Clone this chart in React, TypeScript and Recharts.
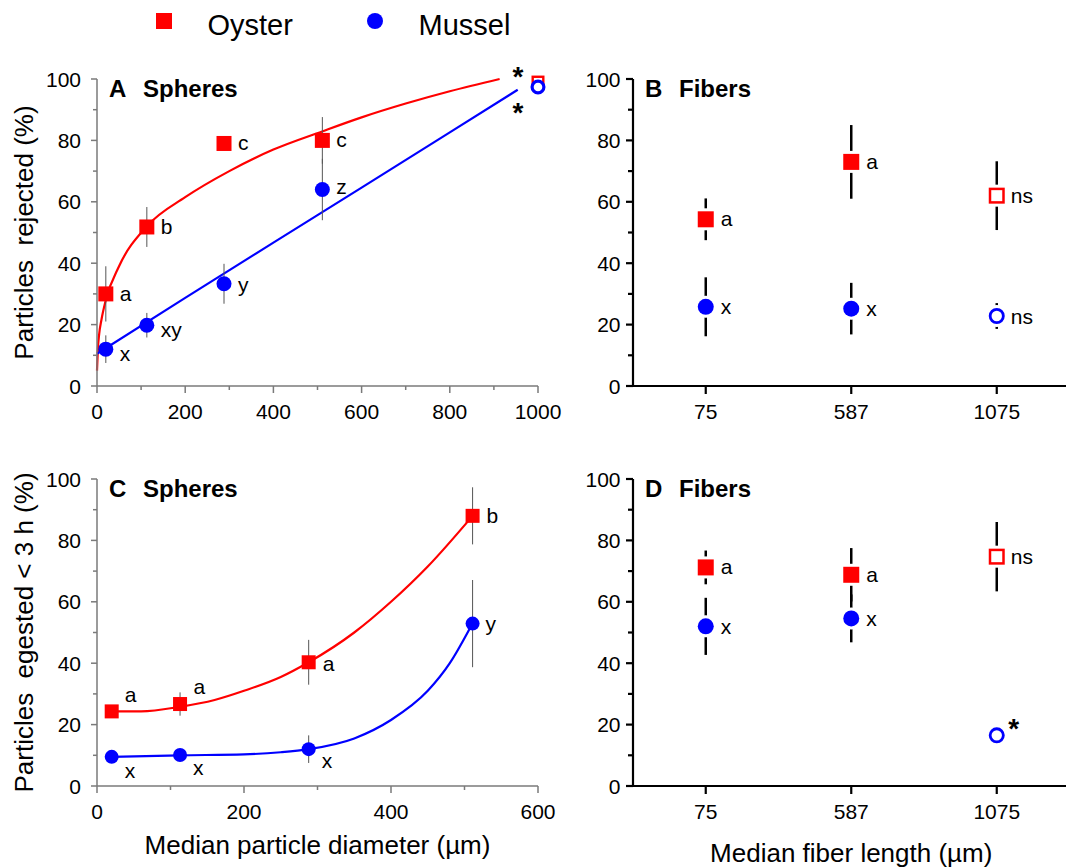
import React from 'react';
import { ComposedChart, Line, Scatter, XAxis, YAxis, ErrorBar, Legend } from 'recharts';

const FONT = '"Liberation Sans", Arial, Helvetica, sans-serif';
const RED = '#ff0000';
const BLUE = '#0000ff';

// ---------- shared ticks ----------
const percentTicks = [0, 10, 20, 30, 40, 50, 60, 70, 80, 90, 100];
const diameterTicksA = [0, 100, 200, 300, 400, 500, 600, 700, 800, 900, 1000];
const diameterTicksC = [0, 100, 200, 300, 400, 500, 600];
const fiberLengths = ['75', '587', '1075'];
const fiberHollow = [false, false, true];
const speciesOrder = ['Oyster', 'Mussel'];

// ---------- Panel A: spheres, particles rejected (%) ----------
const sphereDiameters = [20, 113, 288, 511];
const largeSphereDiameter = 1000;
const oysterRejectedSpheres = [30, 51.8, 79, 80];
const oysterRejectedSpheresSE = [9, 6.5, 0, 7.6];
const oysterRejectedSpheresLetters = ['a', 'b', 'c', 'c'];
const musselRejectedSpheres = [12, 19.8, 33.3, 64];
const musselRejectedSpheresSE = [4.5, 4, 6.5, 10];
const musselRejectedSpheresLetters = ['x', 'xy', 'y', 'z'];
const oysterRejectedLarge = 99;
const musselRejectedLarge = 97.4;
const largeSphereMark = '*';

const oysterRejectFitX = [0, 2, 5, 10, 20, 50, 113, 200, 300, 400, 512, 600, 700, 800, 913];
const oysterRejectFitY = [5, 12, 17, 21.5, 28, 39, 52, 61.5, 70, 77, 83, 87.5, 92, 96, 100];
const musselRejectFitX = [0, 200, 400, 600, 800, 954];
const musselRejectFitY = [10.5, 28.7, 46.7, 64.6, 82.6, 96.5];

// ---------- Panel B: fibers, particles rejected (%) ----------
const oysterRejectedFibers = [54.3, 73, 62];
const oysterRejectedFibersSE = [6.8, 12, 11.2];
const oysterRejectedFibersLetters = ['a', 'a', 'ns'];
const musselRejectedFibers = [25.8, 25.2, 22.8];
const musselRejectedFibersSE = [9.6, 8.4, 4.2];
const musselRejectedFibersLetters = ['x', 'x', 'ns'];

// ---------- Panel C: spheres, egested < 3 h (%) ----------
const oysterEgestedSpheres = [24.3, 26.7, 40.3, 88];
const oysterEgestedSpheresSE = [0, 3.8, 7.3, 9.3];
const oysterEgestedSpheresLetters = ['a', 'a', 'a', 'b'];
const musselEgestedSpheres = [9.5, 10.1, 12, 52.9];
const musselEgestedSpheresSE = [0, 0, 4.5, 14.2];
const musselEgestedSpheresLetters = ['x', 'x', 'x', 'y'];

const oysterEgestFitX = [20, 60, 113, 160, 200, 250, 288, 350, 400, 450, 511];
const oysterEgestFitY = [24.3, 24.3, 25.8, 28, 31, 35.5, 40.3, 50, 60, 71.5, 88];
const musselEgestFitX = [20, 113, 200, 250, 288, 350, 400, 450, 480, 511];
const musselEgestFitY = [9.5, 10, 10.3, 11, 12, 15.5, 21.5, 31, 40, 53];

// ---------- Panel D: fibers, egested < 3 h (%) ----------
const oysterEgestedFibers = [71.2, 68.8, 74.7];
const oysterEgestedFibersSE = [5.5, 8.7, 11.3];
const oysterEgestedFibersLetters = ['a', 'a', 'ns'];
const musselEgestedFibers = [52, 54.6, 16.5];
const musselEgestedFibersSE = [9.3, 7.8, 0];
const musselEgestedFibersLetters = ['x', 'x', '*'];

// ---------- row builders ----------
type Row = { i: number; x: number | string; y: number; se: number; mark: string; hollow: boolean };

const buildRows = (xs: (number | string)[], ys: number[], ses: number[], marks: string[], hollow: boolean[] = []): Row[] =>
  xs.map((x, i) => ({ i, x, y: ys[i], se: ses[i], mark: marks[i] || '', hollow: !!hollow[i] }));

const fitRows = (xs: number[], ys: number[]) => xs.map((x, i) => ({ x, y: ys[i] }));

const oysterRowsA = buildRows(
  [...sphereDiameters, largeSphereDiameter],
  [...oysterRejectedSpheres, oysterRejectedLarge],
  [...oysterRejectedSpheresSE, 0],
  [...oysterRejectedSpheresLetters, largeSphereMark],
  [false, false, false, false, true]
);
const musselRowsA = buildRows(
  [...sphereDiameters, largeSphereDiameter],
  [...musselRejectedSpheres, musselRejectedLarge],
  [...musselRejectedSpheresSE, 0],
  [...musselRejectedSpheresLetters, largeSphereMark],
  [false, false, false, false, true]
);
const oysterRowsB = buildRows(fiberLengths, oysterRejectedFibers, oysterRejectedFibersSE, oysterRejectedFibersLetters, fiberHollow);
const musselRowsB = buildRows(fiberLengths, musselRejectedFibers, musselRejectedFibersSE, musselRejectedFibersLetters, fiberHollow);
const oysterRowsC = buildRows(sphereDiameters, oysterEgestedSpheres, oysterEgestedSpheresSE, oysterEgestedSpheresLetters);
const musselRowsC = buildRows(sphereDiameters, musselEgestedSpheres, musselEgestedSpheresSE, musselEgestedSpheresLetters);
const oysterRowsD = buildRows(fiberLengths, oysterEgestedFibers, oysterEgestedFibersSE, oysterEgestedFibersLetters, fiberHollow);
const musselRowsD = buildRows(fiberLengths, musselEgestedFibers, musselEgestedFibersSE, musselEgestedFibersLetters, fiberHollow);

// ---------- layout ----------
const CHART_W = 1070;
const CHART_H = 867;
const Y_AXIS_W = 50;
const X_AXIS_H = 40;
const LEFT_COL = { left: 97, right: 538 };
const RIGHT_COL = { left: 633, right: 1069.5 };
const TOP_ROW = { top: 79, bottom: 386 };
const BOTTOM_ROW = { top: 479, bottom: 786 };
const FIBER_BAND_PAD = (RIGHT_COL.right - RIGHT_COL.left) / 6;

const marginFor = (h: { left: number; right: number }, v: { top: number; bottom: number }) => ({
  left: h.left - Y_AXIS_W,
  right: CHART_W - h.right,
  top: v.top,
  bottom: CHART_H - v.bottom - X_AXIS_H,
});

type AxisStyle = {
  color: string;
  width: number;
  yMajorLen: number;
  yMinorLen: number;
  yGap: number;
  xMajorLen: number;
  xMinorLen: number;
};
const THIN_AXIS: AxisStyle = { color: '#7a7a7a', width: 1.5, yMajorLen: 6, yMinorLen: 4, yGap: 16, xMajorLen: 7, xMinorLen: 4 };
const BOLD_AXIS: AxisStyle = { color: '#000', width: 2.2, yMajorLen: 7, yMinorLen: 5, yGap: 12.5, xMajorLen: 8, xMinorLen: 8 };

const makeYTick = (st: AxisStyle) => (props: any) => {
  const { x, y, payload } = props;
  const v = Number(payload.value);
  const major = v % 20 === 0;
  return (
    <g>
      <line x1={x - (major ? st.yMajorLen : st.yMinorLen)} x2={x} y1={y} y2={y} stroke={st.color} strokeWidth={st.width} />
      {major && (
        <text x={x - st.yGap} y={y + 7.5} textAnchor="end" fontSize={21} fontFamily={FONT} fill="#000">
          {v}
        </text>
      )}
    </g>
  );
};

const makeXTick = (st: AxisStyle, majorEvery: number) => (props: any) => {
  const { x, y, payload } = props;
  const v = payload.value;
  const major = majorEvery === 0 ? true : Number(v) % majorEvery === 0;
  return (
    <g>
      <line x1={x} x2={x} y1={y} y2={y + (major ? st.xMajorLen : st.xMinorLen)} stroke={st.color} strokeWidth={st.width} />
      {major && (
        <text x={x} y={y + 32.5} textAnchor="middle" fontSize={21} fontFamily={FONT} fill="#000">
          {v}
        </text>
      )}
    </g>
  );
};

const yTitle = (title: string, panel: string, word: string) => (props: any) => {
  const vb = props.viewBox || { x: 0, y: 0, width: 0, height: 0 };
  const left = vb.x + vb.width;
  const top = vb.y;
  const mid = vb.y + vb.height / 2;
  const tx = left - 64;
  return (
    <g>
      {title && (
        <text
          x={tx}
          y={mid}
          transform={`rotate(-90, ${tx}, ${mid})`}
          textAnchor="middle"
          fontSize={26}
          fontFamily={FONT}
          fill="#000"
          xmlSpace="preserve"
          style={{ whiteSpace: 'pre' }}
        >
          {title}
        </text>
      )}
      <text x={left + 12} y={top + 18} fontSize={24} fontWeight="bold" fontFamily={FONT} fill="#000">
        {panel}
      </text>
      <text x={left + 46} y={top + 18} fontSize={24} fontWeight="bold" fontFamily={FONT} fill="#000">
        {word}
      </text>
    </g>
  );
};

const xTitle = (title: string, dy: number) => (props: any) => {
  const vb = props.viewBox || { x: 0, y: 0, width: 0, height: 0 };
  return (
    <text x={vb.x + vb.width / 2} y={vb.y + dy} textAnchor="middle" fontSize={26} fontFamily={FONT} fill="#000">
      {title}
    </text>
  );
};

type MarkerStyle = {
  kind: 'square' | 'circle';
  color: string;
  size: number;
  hollowSize: number;
  hollowStroke: number;
  halo: number;
  dx: number[];
  dy: number[];
};

const markerShape = (st: MarkerStyle) => (props: any) => {
  const { cx, cy } = props;
  const p: Row = props.payload || props;
  if (cx == null || cy == null || isNaN(cx) || isNaN(cy)) return <g />;
  const i = p.i || 0;
  const s = p.hollow ? st.hollowSize : st.size;
  const h = s / 2;
  const sw = st.hollowStroke;
  const star = p.mark === '*';
  const lx = cx + (st.dx[i] ?? st.dx[0]);
  const ly = cy + (st.dy[i] ?? st.dy[0]);
  return (
    <g>
      {st.halo > 0 &&
        (st.kind === 'square' ? (
          <rect x={cx - h - st.halo} y={cy - h - st.halo} width={s + 2 * st.halo} height={s + 2 * st.halo} fill="#fff" />
        ) : (
          <circle cx={cx} cy={cy} r={h + st.halo} fill="#fff" />
        ))}
      {st.kind === 'square' ? (
        p.hollow ? (
          <rect x={cx - h + sw / 2} y={cy - h + sw / 2} width={s - sw} height={s - sw} fill="#fff" stroke={st.color} strokeWidth={sw} />
        ) : (
          <rect x={cx - h} y={cy - h} width={s} height={s} fill={st.color} />
        )
      ) : p.hollow ? (
        <circle cx={cx} cy={cy} r={h - sw / 2} fill="#fff" stroke={st.color} strokeWidth={sw} />
      ) : (
        <circle cx={cx} cy={cy} r={h} fill={st.color} />
      )}
      {p.mark && (
        <text
          x={lx}
          y={ly}
          textAnchor={star ? 'middle' : 'start'}
          fontSize={star ? 28 : 21}
          fontWeight={star ? 'bold' : 'normal'}
          fontFamily={FONT}
          fill="#000"
        >
          {p.mark}
        </text>
      )}
    </g>
  );
};

const legendContent = (props: any) => {
  const items = (props.payload || [])
    .filter((p: any) => p.type !== 'none' && speciesOrder.includes(String(p.value)))
    .sort((a: any, b: any) => speciesOrder.indexOf(String(a.value)) - speciesOrder.indexOf(String(b.value)));
  return (
    <svg width={560} height={46} style={{ display: 'block' }}>
      {items.map((p: any) => {
        const slot = speciesOrder.indexOf(String(p.value));
        const cx = 164 + slot * 211;
        const cy = 21;
        return (
          <g key={String(p.value)}>
            {p.value === 'Oyster' ? (
              <rect x={cx - 8} y={cy - 8} width={16} height={16} fill={RED} />
            ) : (
              <circle cx={cx} cy={cy} r={8} fill={BLUE} />
            )}
            <text x={cx + 43.5} y={35} fontSize={29} fontFamily={FONT} fill="#000">
              {p.value}
            </text>
          </g>
        );
      })}
    </svg>
  );
};

const layer: React.CSSProperties = { position: 'absolute', left: 0, top: 0 };

function PanelA() {
  return (
    <div style={layer}>
      <ComposedChart width={CHART_W} height={CHART_H} margin={marginFor(LEFT_COL, TOP_ROW)}>
        <XAxis
          dataKey="x"
          type="number"
          domain={[0, 1000]}
          ticks={diameterTicksA}
          interval={0}
          tickSize={0}
          tickMargin={0}
          tickLine={false}
          axisLine={{ stroke: THIN_AXIS.color, strokeWidth: THIN_AXIS.width }}
          tick={makeXTick(THIN_AXIS, 200)}
          height={X_AXIS_H}
        />
        <YAxis
          type="number"
          domain={[0, 100]}
          ticks={percentTicks}
          interval={0}
          tickSize={0}
          tickMargin={0}
          tickLine={false}
          axisLine={{ stroke: THIN_AXIS.color, strokeWidth: THIN_AXIS.width }}
          tick={makeYTick(THIN_AXIS)}
          width={Y_AXIS_W}
          label={yTitle('Particles  rejected (%)', 'A', 'Spheres')}
        />
        <Legend
          layout="horizontal"
          verticalAlign="middle"
          align="center"
          content={legendContent}
          wrapperStyle={{ position: 'absolute', left: 0, top: 0, width: 560, height: 46 }}
        />
        <Line data={fitRows(oysterRejectFitX, oysterRejectFitY)} dataKey="y" type="monotone" stroke={RED} strokeWidth={2.2} dot={false} activeDot={false} legendType="none" isAnimationActive={false} />
        <Line data={fitRows(musselRejectFitX, musselRejectFitY)} dataKey="y" type="monotone" stroke={BLUE} strokeWidth={2.2} dot={false} activeDot={false} legendType="none" isAnimationActive={false} />
        <Scatter
          name="Oyster"
          data={oysterRowsA}
          dataKey="y"
          fill={RED}
          isAnimationActive={false}
          shape={markerShape({ kind: 'square', color: RED, size: 15, hollowSize: 13, hollowStroke: 2.4, halo: 0, dx: [14, 14, 14, 14, -20], dy: [7, 7, 7, 7, 4.3] })}
        >
          <ErrorBar dataKey="se" direction="y" width={0} stroke="#555" strokeWidth={1} />
        </Scatter>
        <Scatter
          name="Mussel"
          data={musselRowsA}
          dataKey="y"
          fill={BLUE}
          isAnimationActive={false}
          shape={markerShape({ kind: 'circle', color: BLUE, size: 15, hollowSize: 15, hollowStroke: 3.2, halo: 0, dx: [14, 14, 14, 14, -20], dy: [12, 12, 8, 4, 35.4] })}
        >
          <ErrorBar dataKey="se" direction="y" width={0} stroke="#555" strokeWidth={1} />
        </Scatter>
      </ComposedChart>
    </div>
  );
}

function FiberPanel(props: {
  row: { top: number; bottom: number };
  panel: string;
  oyster: Row[];
  mussel: Row[];
  oysterDy: number[];
  musselDx: number[];
  musselDy: number[];
  title?: string;
}) {
  return (
    <div style={layer}>
      <ComposedChart width={CHART_W} height={CHART_H} margin={marginFor(RIGHT_COL, props.row)}>
        <XAxis
          dataKey="x"
          type="category"
          allowDuplicatedCategory={false}
          padding={{ left: FIBER_BAND_PAD, right: FIBER_BAND_PAD }}
          interval={0}
          tickSize={0}
          tickMargin={0}
          tickLine={false}
          axisLine={{ stroke: BOLD_AXIS.color, strokeWidth: BOLD_AXIS.width }}
          tick={makeXTick(BOLD_AXIS, 0)}
          height={X_AXIS_H}
          label={props.title ? xTitle(props.title, 76) : undefined}
        />
        <YAxis
          type="number"
          domain={[0, 100]}
          ticks={percentTicks}
          interval={0}
          tickSize={0}
          tickMargin={0}
          tickLine={false}
          axisLine={{ stroke: BOLD_AXIS.color, strokeWidth: BOLD_AXIS.width }}
          tick={makeYTick(BOLD_AXIS)}
          width={Y_AXIS_W}
          label={yTitle('', props.panel, 'Fibers')}
        />
        <Scatter
          name="Oyster"
          data={props.oyster}
          dataKey="y"
          fill={RED}
          isAnimationActive={false}
          shape={markerShape({ kind: 'square', color: RED, size: 16, hollowSize: 16, hollowStroke: 2.5, halo: 3, dx: [15, 15, 14], dy: props.oysterDy })}
        >
          <ErrorBar dataKey="se" direction="y" width={0} stroke="#000" strokeWidth={2.5} />
        </Scatter>
        <Scatter
          name="Mussel"
          data={props.mussel}
          dataKey="y"
          fill={BLUE}
          isAnimationActive={false}
          shape={markerShape({ kind: 'circle', color: BLUE, size: 16, hollowSize: 16, hollowStroke: 2.8, halo: 3, dx: props.musselDx, dy: props.musselDy })}
        >
          <ErrorBar dataKey="se" direction="y" width={0} stroke="#000" strokeWidth={2.5} />
        </Scatter>
      </ComposedChart>
    </div>
  );
}

function PanelC() {
  return (
    <div style={layer}>
      <ComposedChart width={CHART_W} height={CHART_H} margin={marginFor(LEFT_COL, BOTTOM_ROW)}>
        <XAxis
          dataKey="x"
          type="number"
          domain={[0, 600]}
          ticks={diameterTicksC}
          interval={0}
          tickSize={0}
          tickMargin={0}
          tickLine={false}
          axisLine={{ stroke: THIN_AXIS.color, strokeWidth: THIN_AXIS.width }}
          tick={makeXTick(THIN_AXIS, 200)}
          height={X_AXIS_H}
          label={xTitle('Median particle diameter (µm)', 68)}
        />
        <YAxis
          type="number"
          domain={[0, 100]}
          ticks={percentTicks}
          interval={0}
          tickSize={0}
          tickMargin={0}
          tickLine={false}
          axisLine={{ stroke: THIN_AXIS.color, strokeWidth: THIN_AXIS.width }}
          tick={makeYTick(THIN_AXIS)}
          width={Y_AXIS_W}
          label={yTitle('Particles  egested < 3 h (%)', 'C', 'Spheres')}
        />
        <Line data={fitRows(oysterEgestFitX, oysterEgestFitY)} dataKey="y" type="monotone" stroke={RED} strokeWidth={2.2} dot={false} activeDot={false} legendType="none" isAnimationActive={false} />
        <Line data={fitRows(musselEgestFitX, musselEgestFitY)} dataKey="y" type="monotone" stroke={BLUE} strokeWidth={2.2} dot={false} activeDot={false} legendType="none" isAnimationActive={false} />
        <Scatter
          name="Oyster"
          data={oysterRowsC}
          dataKey="y"
          fill={RED}
          isAnimationActive={false}
          shape={markerShape({ kind: 'square', color: RED, size: 14, hollowSize: 14, hollowStroke: 2.5, halo: 0, dx: [13, 13.5, 14, 14], dy: [-9, -10, 8.3, 7.3] })}
        >
          <ErrorBar dataKey="se" direction="y" width={0} stroke="#555" strokeWidth={1} />
        </Scatter>
        <Scatter
          name="Mussel"
          data={musselRowsC}
          dataKey="y"
          fill={BLUE}
          isAnimationActive={false}
          shape={markerShape({ kind: 'circle', color: BLUE, size: 14, hollowSize: 14, hollowStroke: 2.5, halo: 0, dx: [13, 13, 13, 13], dy: [20.7, 20.3, 19.3, 7] })}
        >
          <ErrorBar dataKey="se" direction="y" width={0} stroke="#555" strokeWidth={1} />
        </Scatter>
      </ComposedChart>
    </div>
  );
}

export default function App() {
  return (
    <div style={{ position: 'absolute', left: 0, top: 0, width: 1066, height: 867, overflow: 'hidden', background: '#fff' }}>
      <PanelA />
      <FiberPanel row={TOP_ROW} panel="B" oyster={oysterRowsB} mussel={musselRowsB} oysterDy={[7, 7, 7]} musselDx={[15, 15, 14]} musselDy={[7.5, 7.5, 7.5]} />
      <PanelC />
      <FiberPanel
        row={BOTTOM_ROW}
        panel="D"
        oyster={oysterRowsD}
        mussel={musselRowsD}
        oysterDy={[7, 7, 7]}
        musselDx={[15, 15, 17]}
        musselDy={[7.4, 7.4, 3]}
        title="Median fiber length (µm)"
      />
    </div>
  );
}
